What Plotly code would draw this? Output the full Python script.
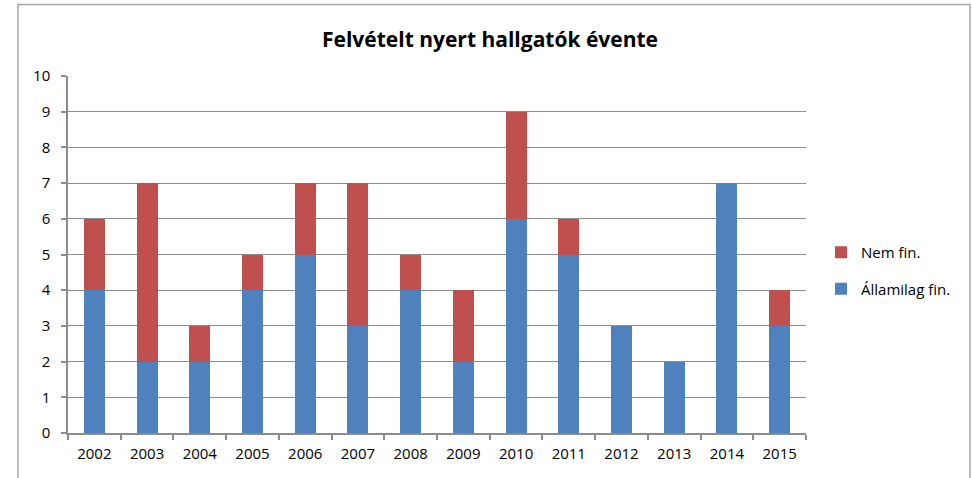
import plotly.graph_objects as go

YEARS = ["2002", "2003", "2004", "2005", "2006", "2007", "2008",
         "2009", "2010", "2011", "2012", "2013", "2014", "2015"]
ALLAMI = [4, 2, 2, 4, 5, 3, 4, 2, 6, 5, 3, 2, 7, 3]
NEM_FIN = [2, 5, 1, 1, 2, 4, 1, 2, 3, 1, 0, 0, 0, 1]

BLUE = "#4F81BD"
RED = "#C0504D"
GRID = "#8c8c8c"

W, H = 972, 478
L, R, T, B = 68, 972 - 806, 76, 478 - 433
pw, ph = W - L - R, H - T - B


def px_x(x):
    return (x - L) / pw


def px_y(y):
    return (H - B - y) / ph


fig = go.Figure()
fig.add_trace(go.Bar(x=YEARS, y=ALLAMI, name="Államilag fin.", marker=dict(color=BLUE, line=dict(width=0)),
                     legendrank=2, legendgroup="a"))
fig.add_trace(go.Bar(x=YEARS, y=NEM_FIN, name="Nem fin.", marker=dict(color=RED, line=dict(width=0)),
                     legendrank=1, legendgroup="b"))

# chart border (Excel chart area)
fig.add_shape(type="rect", xref="paper", yref="paper",
              x0=px_x(18), x1=px_x(970), y0=px_y(495), y1=px_y(4.5),
              line=dict(color="#a6a6a6", width=1.5), layer="below")

fig.update_layout(
    width=W, height=H,
    barmode="stack",
    bargap=0.6,
    paper_bgcolor="white",
    plot_bgcolor="white",
    font=dict(family="Open Sans, Calibri, sans-serif", size=15, color="black"),
    title=dict(text="<b>Felvételt nyert hallgatók évente</b>", x=px_x(490), xref="paper",
               xanchor="center", y=1 - 40 / H, yanchor="middle",
               font=dict(size=21, color="black")),
    margin=dict(l=L, r=R, t=T, b=B),
    xaxis=dict(
        type="category",
        showline=True, linecolor=GRID, linewidth=1.5,
        ticks="outside", tickson="boundaries", ticklen=5, tickcolor=GRID, tickwidth=1.5,
        showgrid=False,
        ticklabelstandoff=6,
        tickfont=dict(size=15),
    ),
    yaxis=dict(
        range=[0, 10], dtick=1,
        showline=True, linecolor=GRID, linewidth=1.5,
        ticks="outside", ticklen=5, tickcolor=GRID, tickwidth=1.5,
        showgrid=True, gridcolor=GRID, gridwidth=1,
        zeroline=False,
        ticklabelstandoff=8,
        tickfont=dict(size=15),
    ),
    legend=dict(
        x=px_x(821), y=px_y(236), xanchor="left", yanchor="top",
        traceorder="grouped", tracegroupgap=14,
        font=dict(size=15),
        itemwidth=30,
    ),
)

fig.write_html("out.html", config={"displayModeBar": False},
               post_script="document.body.style.margin='0';")
